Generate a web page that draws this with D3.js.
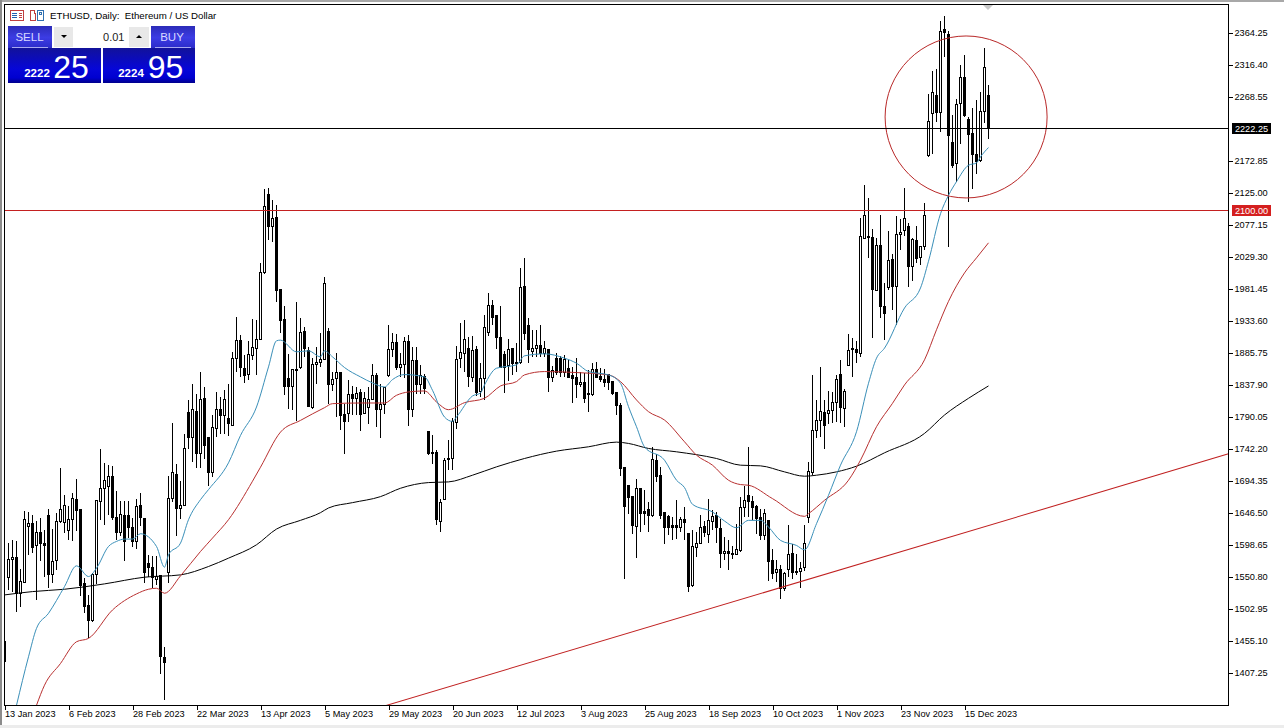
<!DOCTYPE html>
<html><head><meta charset="utf-8">
<script src="https://cdn.jsdelivr.net/npm/d3@7"></script>
<style>
html,body{margin:0;padding:0;background:#fff;overflow:hidden}
svg{display:block}
text{font-family:"Liberation Sans",Arial,sans-serif}
</style></head><body>
<svg id="c" width="1284" height="728"></svg>
<script>
const opens=[1454,1550.5,1577.5,1580.5,1525.5,1542.5,1626.5,1631.5,1598.5,1617.5,
1601.5,1642.5,1554.5,1575.5,1633.5,1632.5,1620.5,1637.5,1666.5,1651.5,
1540.5,1508.5,1485.5,1554.5,1663.5,1682.5,1685.5,1700.5,1640.5,1617.5,
1643.5,1642.5,1625.5,1604.5,1657.5,1639,1571.5,1565.5,1547.5,1552.5,
1430.5,1557.5,1667.5,1704,1652.5,1657.5,1797,1759,1799,1736,
1817.5,1759,1707.5,1772.5,1801,1793,1788,1778,1877.5,1904.5,
1863,1854,1882.5,1892.5,1906,2006,2122.5,2075,2089,1980,
1936,1847.5,1836,1859,1864,1918,1890,1804,1868,1871,
1876,1918,1838,1847,1857,1794,1796,1824,1818,1826,
1795,1804,1816,1852,1802,1809,1852,1891,1902,1864,
1868,1903,1802,1875,1839,1850,1769,1737.5,1737.5,1633.5,
1666.5,1728,1728,1782.5,1878,1885.5,1893,1849.5,1890.5,1828,
1848,1916.5,1956.5,1941.5,1909.5,1883,1867.5,1892.5,1871.5,1871.5,
1984.5,1927.5,1887.5,1892,1897.5,1885.5,1891.5,1849.5,1878,1878,
1856.5,1863,1851.5,1848.5,1839,1841.5,1824.5,1823.5,1861.5,1850.5,
1846.5,1853,1843,1826.5,1806.5,1714.5,1688,1670.5,1627,1682.5,
1648,1651.5,1643,1725.5,1703,1647.5,1641.5,1627.5,1627.5,1625.5,
1636.5,1616.5,1538,1595.5,1601.5,1626.5,1614.5,1634.5,1642.5,1623,
1585.5,1588.5,1586,1584.5,1590.5,1654.5,1673,1663,1655.5,1639.5,
1613,1635.5,1575.5,1558,1561.5,1533,1561.5,1585.5,1558.5,1559.5,
1564.5,1639.5,1706.5,1769.5,1784.5,1796.5,1795.5,1799.5,1811.5,1853,
1802.5,1867.5,1892.5,1890.5,1885.5,2057.5,2058,2058,1979.5,2046.5,
1955.5,1983,2025.5,1984.5,2062.5,2068.5,2074.5,2014.5,2054.5,2028,
2044.5,2181,2244,2271.5,2245,2369,2361.5,2200,2169,2259,
2298,2235,2214,2182,2174,2247,2271];
const highs=[1454,1601.5,1606.5,1604,1562.5,1649,1647.5,1644,1634,1639,
1621.5,1652.5,1622.5,1646.5,1714,1674,1657.5,1676.5,1697.5,1651.5,
1549,1524,1556.5,1665.5,1741.5,1721.5,1719,1716.5,1679,1664,
1664,1664,1639,1667.5,1676.5,1639,1584,1582.5,1581.5,1552.5,
1446.5,1701.5,1781,1720,1694,1765,1816,1839,1825,1857.5,
1835,1759,1792.5,1827.5,1820,1830,1839,1887.5,1939,1912.5,
1882.5,1904,1936,1935,2021,2131,2132.5,2115,2107.5,1980,
1956,1885,1862.5,1962.5,1937.5,1925,1895,1879,1895,1916,
1999,1922.5,1857.5,1886,1857.5,1810,1846,1836,1835,1832.5,
1827.5,1835,1869,1856,1840,1835,1927.5,1915,1914,1886,
1910,1912.5,1895,1895,1867.5,1854,1769,1763,1740.5,1668,
1728,1755.5,1788,1895.5,1930.5,1934.5,1909.5,1910.5,1895.5,1870.5,
1943,1975.5,1965.5,1941.5,1956.5,1888,1906.5,1893,1900.5,2013,
2028,1938,1920.5,1920.5,1928,1903,1891.5,1866.5,1885.5,1881.5,
1883,1875.5,1864.5,1878,1857,1856.5,1860.5,1870.5,1873,1863,
1861.5,1854.5,1843,1828,1811.5,1715.5,1688,1670.5,1698,1683,
1681.5,1663,1745.5,1734.5,1715.5,1648,1643,1640.5,1666.5,1640.5,
1655.5,1616.5,1621.5,1618,1643,1634.5,1668,1651.5,1648,1638,
1610.5,1605.5,1596.5,1630.5,1670.5,1686.5,1745.5,1671.5,1658,1653,
1653,1635.5,1593,1576.5,1568,1558,1628,1600.5,1585.5,1573,
1628,1723,1853,1815.5,1865.5,1815.5,1829.5,1828,1853,1875.5,
1831.5,1914.5,1908,1903,2088,2136.5,2118,2070.5,2058,2091.5,
1990.5,2068,2034.5,2090.5,2085.5,2133,2080.5,2058,2075.5,2044.5,
2110.5,2273,2307.5,2310,2381.5,2390,2366.5,2241.5,2265,2316.5,
2331.5,2239,2251.5,2264,2276.5,2341.5,2286.5];
const lows=[1424,1531.5,1529,1499,1506.5,1541.5,1584,1586.5,1516.5,1574,
1551.5,1534,1541.5,1561.5,1631.5,1616.5,1606.5,1604,1620,1522.5,
1496.5,1459,1484,1540.5,1636.5,1629,1644,1636.5,1606.5,1611.5,
1574,1609,1595,1592.5,1626.5,1542.5,1551.5,1534,1539.5,1406.5,
1367.5,1541.5,1662.5,1611.5,1637.5,1656.5,1741.5,1722.5,1714,1714,
1727.5,1686.5,1700.5,1760,1765,1764,1761,1777.5,1857.5,1850,
1841,1845,1875,1852.5,1905,2004,2055,2051,1962.5,1915,
1822.5,1802.5,1800,1784,1862.5,1880,1805,1802.5,1840,1865,
1875,1809,1829,1790,1771,1735,1782.5,1792.5,1792.5,1769,
1795,1780,1815,1775,1759,1795,1850,1880,1860,1850,
1849,1777,1790,1825,1825,1825,1732.5,1720.5,1628,1618,
1665.5,1710.5,1710.5,1771.5,1863,1858,1834.5,1843,1821.5,1820.5,
1815.5,1911.5,1928,1891.5,1864.5,1825.5,1844.5,1853,1858,1869.5,
1905.5,1871.5,1880.5,1880.5,1880.5,1880.5,1828,1843,1853,1850.5,
1850.5,1848,1811.5,1818,1835.5,1811.5,1798,1821.5,1848,1843,
1834.5,1830.5,1823,1793,1701.5,1548,1645.5,1615.5,1579.5,1618,
1628,1618,1640.5,1693,1638,1599.5,1613,1606.5,1608,1618,
1605.5,1528,1536.5,1580.5,1599.5,1610.5,1601.5,1620.5,1601.5,1564.5,
1575.5,1561.5,1578,1583,1588,1640.5,1640.5,1635.5,1615.5,1605.5,
1605.5,1544.5,1548,1543,1518,1530.5,1550.5,1548,1554.5,1534.5,
1560.5,1631.5,1703,1758,1760.5,1741.5,1779.5,1780.5,1783,1780.5,
1775.5,1866.5,1849.5,1871.5,1880.5,2056.5,2028,1908,1978,1938,
1904.5,1980.5,1949.5,1928,2040.5,2060.5,1984.5,1993,2020.5,2018,
2040.5,2179,2184,2231.5,2216.5,2329,2045,2163,2142,2199,
2239,2112,2131.5,2154,2171.5,2229,2205];
const closes=[1424,1577.5,1580.5,1525.5,1544.5,1637.5,1631.5,1595.5,1617.5,1601.5,
1598.5,1554.5,1574.5,1634.5,1651.5,1657.5,1637.5,1667.5,1650.5,1537.5,
1506.5,1485.5,1554.5,1664.5,1682.5,1695.5,1700.5,1640.5,1617.5,1644.5,
1603.5,1625.5,1604.5,1655.5,1640.5,1557.5,1564.5,1549.5,1551.5,1431.5,
1422.5,1667.5,1707.5,1652.5,1657.5,1742.5,1759,1801,1735,1816,
1747.5,1706.5,1774,1801,1792.5,1816,1781,1877.5,1904.5,1864,
1852.5,1884,1894,1906,2006.5,2105,2075,2087.5,1979,1935,
1836,1835,1861,1861,1917,1893,1806,1869,1872,1876,
1990,1839,1846,1857,1793,1784,1824,1818,1825,1794,
1817.5,1816,1852,1802,1809,1834,1891,1901,1864,1869,
1903,1802,1874,1839,1852,1833,1736,1735.5,1636.5,1661.5,
1724.5,1726.5,1783,1876.5,1886.5,1905.5,1850.5,1889,1826.5,1848,
1924.5,1957.5,1939.5,1909.5,1864.5,1864.5,1891.5,1870.5,1869.5,1983,
1915.5,1890.5,1893,1897,1885.5,1893,1849.5,1859.5,1856.5,1856.5,
1875.5,1849.5,1847.5,1838.5,1842,1817.5,1823.5,1861.5,1849.5,1846.5,
1841.5,1841.5,1825.5,1806.5,1713,1655.5,1669.5,1628,1683,1645.5,
1645.5,1643,1726.5,1701.5,1643,1625.5,1625.5,1625.5,1625.5,1636.5,
1633,1536.5,1596.5,1601.5,1625.5,1618,1635.5,1641.5,1624.5,1586.5,
1588.5,1585.5,1585,1591.5,1654.5,1665.5,1663,1654.5,1638,1613,
1645.5,1574.5,1556.5,1561.5,1533,1555.5,1584.5,1558,1557.5,1563,
1601.5,1708,1769.5,1785.5,1798,1778,1799.5,1811.5,1845.5,1804.5,
1828,1889.5,1890.5,1886.5,2059.5,2091.5,2060.5,1980.5,2046.5,1955.5,
1945.5,2023.5,1985.5,2063,2066.5,2086.5,2014.5,2055.5,2026.5,2044.5,
2091.5,2232,2275,2245,2367,2365,2211,2166.5,2257.5,2298,
2241,2212,2182,2172,2247,2313,2222.25];

const maFastBars=[3,6,8,11,15,18,21,23,26,28,30,32,34,38,40,41,44,46,49,51,56,59,63,66,68,69,73,76,79,80,82,85,89,92,95,97,100,105,107,110,112,113,117,119,120,123,128,130,135,140,143,146,151,154,156,158,160,165,168,170,172,177,180,183,186,189,191,194,198,200,203,206,209,213,216,218,220,225,229,231,234,236,238,241,243,244,246];
const maFast=[1359,1431.5,1474,1496.5,1536.5,1567.5,1551.5,1564,1596.5,1604,1607.5,1607.5,1615.5,1596.5,1565.5,1584,1601.5,1636.5,1666.5,1681.5,1721.5,1762.5,1805,1865,1904,1905,1887.5,1889,1880,1889,1880,1864,1850,1841,1835,1846,1853.5,1850,1830,1790,1783.5,1790,1821.5,1826,1838,1863,1868,1881.5,1884.5,1878,1870.5,1858,1853,1840.5,1805.5,1775.5,1745.5,1725.5,1695.5,1684.5,1659.5,1648,1634.5,1624.5,1635.5,1635.5,1625.5,1605.5,1598,1591.5,1630.5,1673,1718,1768,1840.5,1878,1893,1953,1983,2023,2094,2121.5,2142,2166.5,2170,2179,2193];
const maMidBars=[8,10,14,18,21,27,33,36,38,40,44,49,52,56,62,64,69,74,80,82,89,95,98,101,105,108,111,115,120,124,128,130,135,143,151,154,158,161,165,170,173,177,181,184,186,192,200,201,205,211,214,218,222,225,230,233,236,240,243,246];
const maMid=[1359,1389,1421.5,1454,1459,1501.5,1525.5,1532.5,1534,1526.5,1552.5,1589,1609,1636.5,1694,1715,1767.5,1785,1804,1810,1811,1811,1822.5,1827.5,1829,1812.5,1801,1811.5,1818,1836.5,1843,1853,1858,1856.5,1853,1843,1815.5,1798,1785.5,1753,1733,1718,1695.5,1689,1688,1668,1641.5,1645.5,1665.5,1695.5,1725.5,1775.5,1810.5,1838,1875.5,1920.5,1963,2005.5,2028,2050.5];
const maSlowBars=[0,7,15,25,35,44,51,56,63,68,74,79,81,87,94,99,106,111,117,123,130,138,146,153,156,161,168,178,184,189,195,200,203,208,213,220,230,235,241,246];
const maSlow=[1524,1529,1532.5,1540.5,1550.5,1554,1566.5,1579,1599,1622.5,1635.5,1647,1654,1662,1671,1683.5,1692,1693,1703,1715.5,1728,1739,1745.5,1752.5,1750.5,1743,1738,1728,1718,1717,1708,1701.5,1703,1708,1716.5,1736.5,1765.5,1793,1818,1836.5];

const trendBars=[95,306];
const trendPrices=[1358,1735];
const priceLast=2222.25, priceLevel=2100;
const circleBar=240.4, circlePrice=2238.7, circleBarRadius=20.25, circlePriceRadius=121.1;

const priceTicks=[2364.25,2316.40,2268.55,2172.85,2125.00,2077.15,2029.30,1981.45,1933.60,1885.75,1837.90,1790.05,1742.20,1694.35,1646.50,1598.65,1550.80,1502.95,1455.10,1407.25];
const dateTickBars=[0,16,32,48,64,80,96,112,128,144,160,176,192,208,224,240];
const dateLabels=["13 Jan 2023","6 Feb 2023","28 Feb 2023","22 Mar 2023","13 Apr 2023","5 May 2023","29 May 2023","20 Jun 2023","12 Jul 2023","3 Aug 2023","25 Aug 2023","18 Sep 2023","10 Oct 2023","1 Nov 2023","23 Nov 2023","15 Dec 2023"];
const chartTitle="ETHUSD, Daily:  Ethereum / US Dollar";

const L=4.5,R=1228.5,T=4.5,B=705.5;
const axisFont='9.2px';
const x=d3.scaleLinear().domain([0,306]).range([4.5,1228.5]);
const y=d3.scaleLinear().domain([2364.25,1407.25]).range([33,673]);
const svg=d3.select("#c");

svg.append("rect").attr("x",0).attr("y",0).attr("width",1284).attr("height",2).attr("fill","#a8a8a8");
svg.append("rect").attr("x",0).attr("y",0).attr("width",2).attr("height",728).attr("fill","#8c8c8c");
svg.append("rect").attr("x",0).attr("y",725).attr("width",1284).attr("height",3).attr("fill","#ececec");

const defs=svg.append("defs");
defs.append("clipPath").attr("id","plot").append("rect").attr("x",L).attr("y",T).attr("width",R-L).attr("height",B-T);
function grad(id,stops){const g=defs.append("linearGradient").attr("id",id).attr("x1",0).attr("x2",0).attr("y1",0).attr("y2",1);
 stops.forEach(s=>g.append("stop").attr("offset",s[0]).attr("stop-color",s[1]));}
grad("btn",[[0,"#2c2cb8"],[0.5,"#3c3ce4"],[1,"#2a2ac8"]]);
grad("pan",[[0,"#12129a"],[0.6,"#0606d8"],[0.85,"#0000d0"],[1,"#00008c"]]);

const plot=svg.append("g").attr("clip-path","url(#plot)");
const crisp=plot.append("g").attr("shape-rendering","crispEdges");
const bars=d3.range(opens.length);
crisp.selectAll("line.wick").data(bars).join("line").attr("class","wick")
 .attr("x1",i=>x(i)).attr("x2",i=>x(i)).attr("y1",i=>y(highs[i])).attr("y2",i=>y(lows[i]))
 .attr("stroke","#000").attr("stroke-width",1);
crisp.selectAll("rect.body").data(bars).join("rect").attr("class","body")
 .attr("x",i=>x(i)-1).attr("width",2)
 .attr("y",i=>y(Math.max(opens[i],closes[i])))
 .attr("height",i=>Math.max(1,y(Math.min(opens[i],closes[i]))-y(Math.max(opens[i],closes[i]))))
 .attr("fill",i=>closes[i]>=opens[i]?"#fff":"#000").attr("stroke","#000").attr("stroke-width",1);

const lineGen=(bs,vs)=>d3.line().x((d,i)=>x(bs[i])).y(d=>y(d)).curve(d3.curveMonotoneX)(vs);
plot.append("path").attr("d",lineGen(maSlowBars,maSlow)).attr("fill","none").attr("stroke","#000").attr("stroke-width",1);
plot.append("path").attr("d",lineGen(maMidBars,maMid)).attr("fill","none").attr("stroke","#b83030").attr("stroke-width",1);
plot.append("path").attr("d",lineGen(maFastBars,maFast)).attr("fill","none").attr("stroke","#3a8fb8").attr("stroke-width",1);
plot.append("line").attr("x1",x(trendBars[0])).attr("x2",x(trendBars[1])).attr("y1",y(trendPrices[0])).attr("y2",y(trendPrices[1])).attr("stroke","#c02020").attr("stroke-width",1.05);
plot.append("ellipse").attr("cx",x(circleBar)).attr("cy",y(circlePrice))
 .attr("rx",x(circleBarRadius)-x(0)).attr("ry",y(2238.7-circlePriceRadius)-y(2238.7))
 .attr("fill","none").attr("stroke","#b82828").attr("stroke-width",1);
const yHL=v=>Math.round(y(v))+.5;
svg.append("line").attr("x1",L).attr("x2",R).attr("y1",yHL(priceLast)).attr("y2",yHL(priceLast)).attr("stroke","#000");
svg.append("line").attr("x1",L).attr("x2",R).attr("y1",yHL(priceLevel)).attr("y2",yHL(priceLevel)).attr("stroke","#c42020").attr("stroke-width",1.15);

svg.append("rect").attr("x",L).attr("y",T).attr("width",R-L).attr("height",B-T).attr("fill","none").attr("stroke","#000").attr("shape-rendering","crispEdges");
svg.append("path").attr("d","M983,5H993L988,10Z").attr("fill","#c8c8c8");

const ya=svg.append("g").attr("transform",`translate(${R},0)`).attr("shape-rendering","crispEdges")
 .call(d3.axisRight(y).tickValues(priceTicks).tickSize(4).tickPadding(2).tickFormat(d3.format(".2f")));
ya.select(".domain").remove();
ya.selectAll("line").attr("stroke","#000");
ya.selectAll("text").attr("fill","#000").style("font-size",axisFont).style("font-family",'"Liberation Sans",Arial,sans-serif');
const xa=svg.append("g").attr("transform",`translate(0,${B})`).attr("shape-rendering","crispEdges")
 .call(d3.axisBottom(x).tickValues(dateTickBars).tickSize(4).tickFormat((d,i)=>dateLabels[i]));
xa.select(".domain").remove();
xa.selectAll("line").attr("stroke","#000");
xa.selectAll("text").attr("text-anchor","start").attr("fill","#000").attr("y",5).attr("dy","0.71em").style("font-size",axisFont).style("font-family",'"Liberation Sans",Arial,sans-serif');

function tag(v,fill){const yy=yHL(v);
 svg.append("rect").attr("x",1232).attr("y",yy-5.5).attr("width",39).attr("height",11).attr("fill",fill);
 svg.append("text").attr("x",1251.5).attr("y",yy+3.4).attr("text-anchor","middle").attr("fill","#fff").style("font-size",axisFont).text(v.toFixed(2));}
tag(priceLast,"#000");tag(priceLevel,"#d41f1f");

svg.append("text").attr("x",50).attr("y",19).attr("fill","#000").style("font-size","9.7px").style("white-space","pre").text(chartTitle);
const ic=svg.append("g").attr("fill","none").attr("stroke-width",1).attr("shape-rendering","crispEdges");
ic.append("rect").attr("x",10.5).attr("y",10.5).attr("width",13).attr("height",10).attr("stroke","#c04040").attr("fill","#fff");
ic.append("path").attr("d","M12,13.5H17M12,15.5H17M12,17.5H17").attr("stroke","#2060b0");
ic.append("path").attr("d","M18.5,13.5H22M18.5,15.5H22M18.5,17.5H22").attr("stroke","#c04040");
ic.append("path").attr("d","M30.5,20.5V10.5H34.5V13.5H35.5V20.5Z").attr("stroke","#c04040");
ic.append("rect").attr("x",37.5).attr("y",10.5).attr("width",6).attr("height",10).attr("stroke","#3070b0");
ic.append("rect").attr("x",39.5).attr("y",12.5).attr("width",2).attr("height",2).attr("stroke","#3070b0");

const p=svg.append("g");
p.append("rect").attr("x",8).attr("y",26).attr("width",44).attr("height",23).attr("fill","url(#btn)");
p.append("rect").attr("x",151).attr("y",26).attr("width",44).attr("height",23).attr("fill","url(#btn)");
p.append("rect").attr("x",8).attr("y",48).attr("width",93).attr("height",35).attr("fill","url(#pan)");
p.append("rect").attr("x",103).attr("y",48).attr("width",92).attr("height",35).attr("fill","url(#pan)");
p.append("line").attr("x1",12).attr("x2",48).attr("y1",47.5).attr("y2",47.5).attr("stroke","#a8a8f0");
p.append("line").attr("x1",155).attr("x2",191).attr("y1",47.5).attr("y2",47.5).attr("stroke","#a8a8f0");
p.append("rect").attr("x",54).attr("y",27).attr("width",19).attr("height",20).attr("fill","#e8e8e8");
p.append("rect").attr("x",73).attr("y",27).attr("width",56).attr("height",20).attr("fill","#fff");
p.append("rect").attr("x",129).attr("y",27).attr("width",20).attr("height",20).attr("fill","#e8e8e8");
p.append("path").attr("d","M61,35H67L64,38Z").attr("fill","#000");
p.append("path").attr("d","M136,38H142L139,35Z").attr("fill","#000");
const t=(s,xx,yy,sz,fill,w,anc)=>p.append("text").attr("x",xx).attr("y",yy).attr("fill",fill).attr("font-weight",w||"normal").attr("text-anchor",anc||"middle").style("font-size",sz+"px").text(s);
t("SELL",29.5,41,11.5,"#d8d8ff");t("BUY",172,41,11.5,"#d8d8ff");
t("0.01",124.5,41,11,"#222","normal","end");
t("2222",37,77,11.5,"#fff","bold");t("2224",131,77,11.5,"#fff","bold");
t("25",71,78,32,"#fff");t("95",165.5,78,32,"#fff");
</script>
</body></html>
